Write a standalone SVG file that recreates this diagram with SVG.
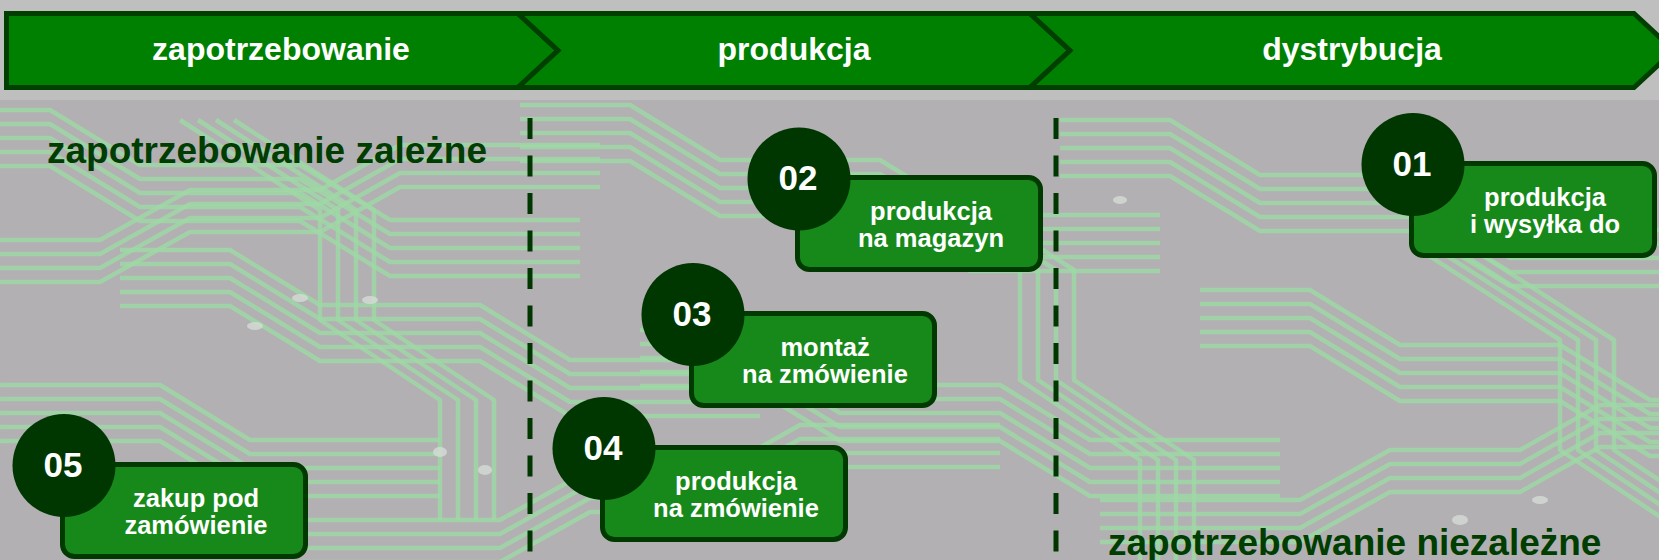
<svg xmlns="http://www.w3.org/2000/svg" xmlns:xlink="http://www.w3.org/1999/xlink" width="1659" height="560" viewBox="0 0 1659 560">
<style>
.bg{fill:#b3b0b3}
.trace{fill:none;stroke:#9fd8a6;stroke-width:4.5;stroke-linejoin:round;opacity:.85}
.pad{fill:#d6dcd6;opacity:.8}
.seg{fill:#008000;stroke:#003f00;stroke-width:5;stroke-linejoin:miter}
.segt{font-family:"Liberation Sans",Arial,sans-serif;font-weight:bold;font-size:32px;fill:#ffffff;text-anchor:middle}
.head{font-family:"Liberation Sans",Arial,sans-serif;font-weight:bold;font-size:37px;fill:#003d00}
.div{stroke:#003600;stroke-width:5;stroke-dasharray:21 16.5;fill:none}
.box{fill:#17891a;stroke:#003a00;stroke-width:5}
.circ{fill:#003600}
.num{font-family:"Liberation Sans",Arial,sans-serif;font-weight:bold;font-size:35px;fill:#ffffff;text-anchor:middle}
.bt{font-family:"Liberation Sans",Arial,sans-serif;font-weight:bold;font-size:25.5px;fill:#ffffff;text-anchor:middle}
</style>
<defs>
<path id="t1" d="M0,0 H110 L200,55 H360 L450,110 H640"/>
<path id="t2" d="M0,0 H200 L290,-50 H420 L500,-95 H700"/>
<path id="t3" d="M0,0 L140,90 V200 L260,280 V400"/>
<g id="b1" class="trace"><use xlink:href="#t1"/><use xlink:href="#t1" y="14"/><use xlink:href="#t1" y="28"/><use xlink:href="#t1" y="42"/><use xlink:href="#t1" y="56"/></g>
<g id="b2" class="trace"><use xlink:href="#t2"/><use xlink:href="#t2" y="14"/><use xlink:href="#t2" y="28"/><use xlink:href="#t2" y="42"/></g>
<g id="b3" class="trace"><use xlink:href="#t3"/><use xlink:href="#t3" x="18"/><use xlink:href="#t3" x="36"/><use xlink:href="#t3" x="54"/></g>
</defs>
<g id="background">
<rect class="bg" x="0" y="0" width="1659" height="560"/>
<rect x="0" y="0" width="1659" height="100" fill="#c6cac6" opacity=".6"/>
<use xlink:href="#b1" x="-60" y="110"/>
<use xlink:href="#b1" x="120" y="250"/>
<use xlink:href="#b1" x="-200" y="330"/>
<use xlink:href="#b1" x="520" y="105"/>
<use xlink:href="#b1" x="640" y="330"/>
<use xlink:href="#b1" x="1060" y="120"/>
<use xlink:href="#b1" x="1200" y="290"/>
<use xlink:href="#b2" x="300" y="520"/>
<use xlink:href="#b2" x="1100" y="500"/>
<use xlink:href="#b2" x="-100" y="240"/>
<use xlink:href="#b3" x="180" y="120"/>
<use xlink:href="#b3" x="880" y="180"/>
<use xlink:href="#b3" x="1420" y="250"/>
<ellipse class="pad" cx="300" cy="298" rx="8" ry="4"/>
<ellipse class="pad" cx="370" cy="300" rx="8" ry="4"/>
<ellipse class="pad" cx="255" cy="326" rx="8" ry="4"/>
<ellipse class="pad" cx="440" cy="452" rx="7" ry="5"/>
<ellipse class="pad" cx="485" cy="470" rx="7" ry="5"/>
<ellipse class="pad" cx="1120" cy="200" rx="7" ry="4"/>
<ellipse class="pad" cx="1460" cy="520" rx="8" ry="5"/>
<ellipse class="pad" cx="1540" cy="500" rx="8" ry="4"/>
</g>
<g id="banner">
<path class="seg" d="M6.5,13.5 H518 L558,50.5 L518,87.5 H6.5 Z"/>
<path class="seg" d="M518,13.5 H1030 L1070,50.5 L1030,87.5 H518 L558,50.5 Z"/>
<path class="seg" d="M1030,13.5 H1634 L1674,50.5 L1634,87.5 H1030 L1070,50.5 Z"/>
<text class="segt" x="281" y="60">zapotrzebowanie</text>
<text class="segt" x="794" y="60">produkcja</text>
<text class="segt" x="1352" y="60">dystrybucja</text>
</g>
<g id="connectors">
<line class="div" x1="530" y1="118" x2="530" y2="560"/>
<line class="div" x1="1056" y1="118" x2="1056" y2="560"/>
</g>
<g id="heading-dependent"><text class="head" x="47" y="163">zapotrzebowanie zależne</text></g>
<g id="heading-independent"><text class="head" x="1108" y="555">zapotrzebowanie niezależne</text></g>
<g id="node01">
<rect class="box" x="1411.5" y="163.5" width="243" height="92" rx="12"/>
<circle class="circ" cx="1413" cy="164.5" r="51.5"/>
<text class="num" x="1412" y="175.5">01</text>
<text class="bt" x="1545" y="205.5">produkcja</text>
<text class="bt" x="1545" y="233">i wysyłka do</text>
</g>
<g id="node02">
<rect class="box" x="797.5" y="177.5" width="243" height="92" rx="12"/>
<circle class="circ" cx="799" cy="179" r="51.5"/>
<text class="num" x="798" y="190">02</text>
<text class="bt" x="931" y="219.5">produkcja</text>
<text class="bt" x="931" y="247">na magazyn</text>
</g>
<g id="node03">
<rect class="box" x="691.5" y="313.5" width="243" height="92" rx="12"/>
<circle class="circ" cx="693" cy="314.5" r="51.5"/>
<text class="num" x="692" y="325.5">03</text>
<text class="bt" x="825" y="355.5">montaż</text>
<text class="bt" x="825" y="383">na zmówienie</text>
</g>
<g id="node04">
<rect class="box" x="602.5" y="447.5" width="243" height="92" rx="12"/>
<circle class="circ" cx="604" cy="448.5" r="51.5"/>
<text class="num" x="603" y="459.5">04</text>
<text class="bt" x="736" y="489.5">produkcja</text>
<text class="bt" x="736" y="517">na zmówienie</text>
</g>
<g id="node05">
<rect class="box" x="62.5" y="464.5" width="243" height="92" rx="12"/>
<circle class="circ" cx="64" cy="465.5" r="51.5"/>
<text class="num" x="63" y="476.5">05</text>
<text class="bt" x="196" y="506.5">zakup pod</text>
<text class="bt" x="196" y="534">zamówienie</text>
</g>
</svg>
